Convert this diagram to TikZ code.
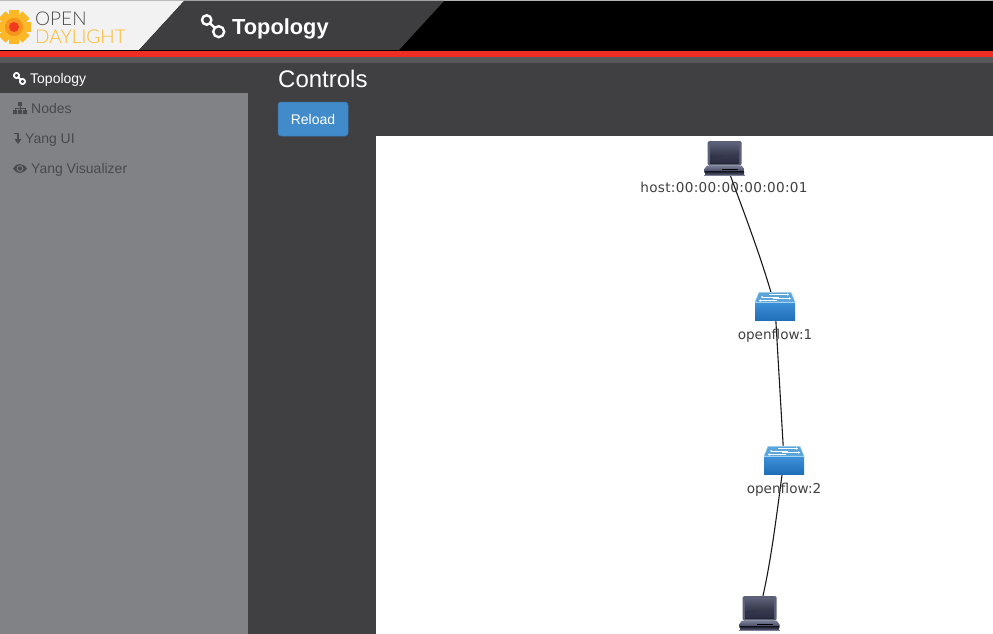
\documentclass[tikz,border=0pt]{standalone}
\usepackage{fontspec}
\usetikzlibrary{arrows.meta}
\setmainfont{Liberation Sans}
\newfontfamily\labelfont{DejaVu Sans}
\newfontfamily\spacedlabelfont[LetterSpace=2.3]{DejaVu Sans}
\newfontfamily\logofont{Lato Light}
\definecolor{uidark}{HTML}{404042}
\definecolor{hdrdark}{HTML}{3E3E40}
\definecolor{sidegray}{HTML}{808285}
\definecolor{sidetext}{HTML}{4A4A4C}
\definecolor{odlred}{HTML}{EE2D24}
\definecolor{stripe}{HTML}{58585A}
\definecolor{btnblue}{HTML}{428BCA}
\definecolor{odlyellow}{HTML}{FDB827}
\definecolor{odlorange}{HTML}{F7941D}
\definecolor{hostA}{HTML}{5C6078}
\definecolor{hostB}{HTML}{3A3D55}
\definecolor{hostC}{HTML}{1A1C2A}
\definecolor{hostD}{HTML}{7C8098}
\definecolor{swTop}{HTML}{5BA4D9}
\definecolor{swEdge}{HTML}{A4D2F0}
\definecolor{swFront}{HTML}{1F6EB8}
\definecolor{swFrontB}{HTML}{3F92DA}
\definecolor{swFrontC}{HTML}{2B7DC6}
\tikzset{
  px/.style={font=\fontsize{#1}{#1}\selectfont},
  sidelabel/.style={inner sep=0pt,anchor=base west,text=sidetext,px=14},
  hostbox/.style={inner sep=0pt,minimum width=40pt,minimum height=35pt},
  switchbox/.style={inner sep=0pt,minimum width=40pt,minimum height=28pt},
  toponame/.style={inner sep=0pt,anchor=base,text=black!75,font=\labelfont\fontsize{13.6}{14}\selectfont},
  link/.style={draw=black!90,line width=1.1pt},
  swarrow/.style={white,line width=.6pt,-{Stealth[length=2pt,width=2.4pt]}},
}
% host icon: #1 = centre
\newcommand{\hosticon}[1]{%
  \begin{scope}[shift={#1}]
    \fill[hostA,rounded corners=1.5pt] (-16.5,-17.5) rectangle (17.5,7);
    \shade[top color=hostA,middle color=hostC!85!hostA,bottom color=hostC] (-14,-15.5) rectangle (15,5);
    \fill[hostB,opacity=.5] (-14,0) .. controls (-3,-1) and (8,-4) .. (15,-6) -- (15,5) -- (-14,5) -- cycle;
    \shade[top color=hostD,bottom color=hostB] (-17,7) -- (17.5,7) -- (20.5,11) -- (20.5,14) -- (-20,14) -- (-20,11) -- cycle;
    \shade[top color=hostC,bottom color=hostA] (-19,13) rectangle (20,16.5);
    \fill[hostD] (-20,16.5) rectangle (20.5,17.5);
    \fill[black] (-2,10.5) rectangle (14,11.5);
  \end{scope}}
% switch icon: #1 = centre
\newcommand{\switchicon}[1]{%
  \begin{scope}[shift={#1}]
    \fill[swTop,draw=swEdge,line width=.5pt] (-16,-13.7) -- (16,-13.7) -- (20,-4) -- (-20,-4) -- cycle;
    \shade[top color=swFrontB,middle color=swFrontC,bottom color=swFront] (-20,-4) rectangle (20,14);
    \draw[swEdge,line width=.5pt] (-20,-4) -- (20,-4);
    \draw[swarrow] (-6,-11.5) -- (14,-11.5);
    \draw[swarrow] (4,-9) -- (-14,-9);
    \draw[swarrow] (-2,-7.5) -- (16,-7.5);
    \draw[swarrow] (2,-5.5) -- (-16,-5.5);
  \end{scope}}
% chain icon: two rings and the short link between them
\newcommand{\ringicon}[6]{%
  \draw[white,line width=#5] #1 circle (#3);
  \draw[white,line width=#5] #2 circle (#4);
  \draw[white,line width=#5] #6;}
\begin{document}
\begin{tikzpicture}[x=1pt,y=-1pt]
\useasboundingbox (0,0) rectangle (993,634);
\clip (0,0) rectangle (993,634);
% page
\fill[uidark] (0,0) rectangle (993,634);
\fill[black] (0,0) rectangle (993,51);
\fill[black!30] (0,0) rectangle (993,1);
\fill[black!5] (0,1) -- (184,1) -- (139,50) -- (0,50) -- cycle;
\fill[hdrdark] (184,1) -- (444,1) -- (399,50) -- (139,50) -- cycle;
\fill[odlred] (0,51) rectangle (993,57);
\fill[stripe] (0,57) rectangle (993,63);
\fill[sidegray] (0,93) rectangle (248,634);
\fill[white] (376,136) rectangle (993,634);
% logo
\foreach \a in {0,45,90,135}{
  \fill[odlyellow,rotate around={\a:(14,27)}] (9,10) rectangle (19,44);
}
\foreach \a in {0,45,90,135}{
  \fill[odlorange,rotate around={\a:(14,27)}] (11,18) rectangle (17,36);
}
\fill[odlred!85!orange] (14,27) circle (5);
\node[inner sep=0pt,anchor=base west,text=black!70,font=\logofont\fontsize{19}{19}\selectfont] (logoopen) at (35,25.2) {OPEN};
\node[inner sep=0pt,anchor=base west,text=odlyellow,font=\logofont\fontsize{19}{19}\selectfont] (logoday) at (35,43.2) {DAYLIGHT};
% header title
\ringicon{(206.7,20)}{(218.7,31.7)}{4.7}{5.5}{2.4pt}{(210,23.3) -- (215,28)}
\node[inner sep=0pt,anchor=base west,text=white,font=\bfseries\fontsize{21.8}{22}\selectfont] (title) at (232,35) {Topology};
% sidebar
\ringicon{(16.5,75.5)}{(22.5,81.5)}{2.6}{2.6}{1.8pt}{(18,77) -- (21,80)}
\node[sidelabel,text=white] (navtopo) at (30,83) {Topology};
\fill[sidetext] (18,102) rectangle (22,106);
\fill[sidetext] (13,110) rectangle (17,114) (18,110) rectangle (22,114) (23,110) rectangle (27,114);
\draw[sidetext,line width=.8pt] (20,106) -- (20,110) (15,110) -- (15,108) -- (25,108) -- (25,110);
\node[sidelabel] (navnodes) at (31,113) {Nodes};
\draw[sidetext,line width=1.3pt] (14,133.5) -- (18,133.5) -- (18,141);
\fill[sidetext] (14.5,139) -- (21.5,139) -- (18,144) -- cycle;
\node[sidelabel] (navyang) at (25,143) {Yang UI};
\fill[sidetext] (13,168.5) .. controls (16,162.5) and (23,162.5) .. (27,168.5) .. controls (23,174.5) and (16,174.5) .. (13,168.5) -- cycle;
\fill[sidegray] (20,168.5) circle (3.3);
\fill[sidetext] (20,168.5) circle (2.2);
\node[sidelabel] (navviz) at (31,173) {Yang Visualizer};
% controls
\node[inner sep=0pt,anchor=base west,text=white,px=24] (controls) at (278,87) {Controls};
\node[inner sep=0pt,minimum width=70pt,minimum height=34pt,rounded corners=3pt,fill=btnblue,draw=btnblue!85!black,line width=.5pt,text=white,px=14] (reload) at (313,119) {Reload};
% topology: invisible node frames, connectors, then icons on top
\node[hostbox] (h1) at (724,158.5) {};
\node[switchbox] (s1) at (775,306) {};
\node[switchbox] (s2) at (784,460) {};
\node[hostbox] (h2) at (759,613.5) {};
\draw[link] (h1) .. controls (745,215) and (760,255) .. (s1);
\draw[link] (s1) -- (s2);
\draw[link] (s2) .. controls (776,520) and (771,560) .. (h2);
\hosticon{(724,158.5)}
\switchicon{(775,306)}
\switchicon{(784,460)}
\hosticon{(759,613.5)}
\node[toponame,font=\spacedlabelfont\fontsize{13.6}{14}\selectfont] (h1name) at (724,192) {host:00:00:00:00:00:01};
\node[toponame] (s1name) at (775,339) {openflow:1};
\node[toponame] (s2name) at (784,493) {openflow:2};
\end{tikzpicture}
\end{document}
